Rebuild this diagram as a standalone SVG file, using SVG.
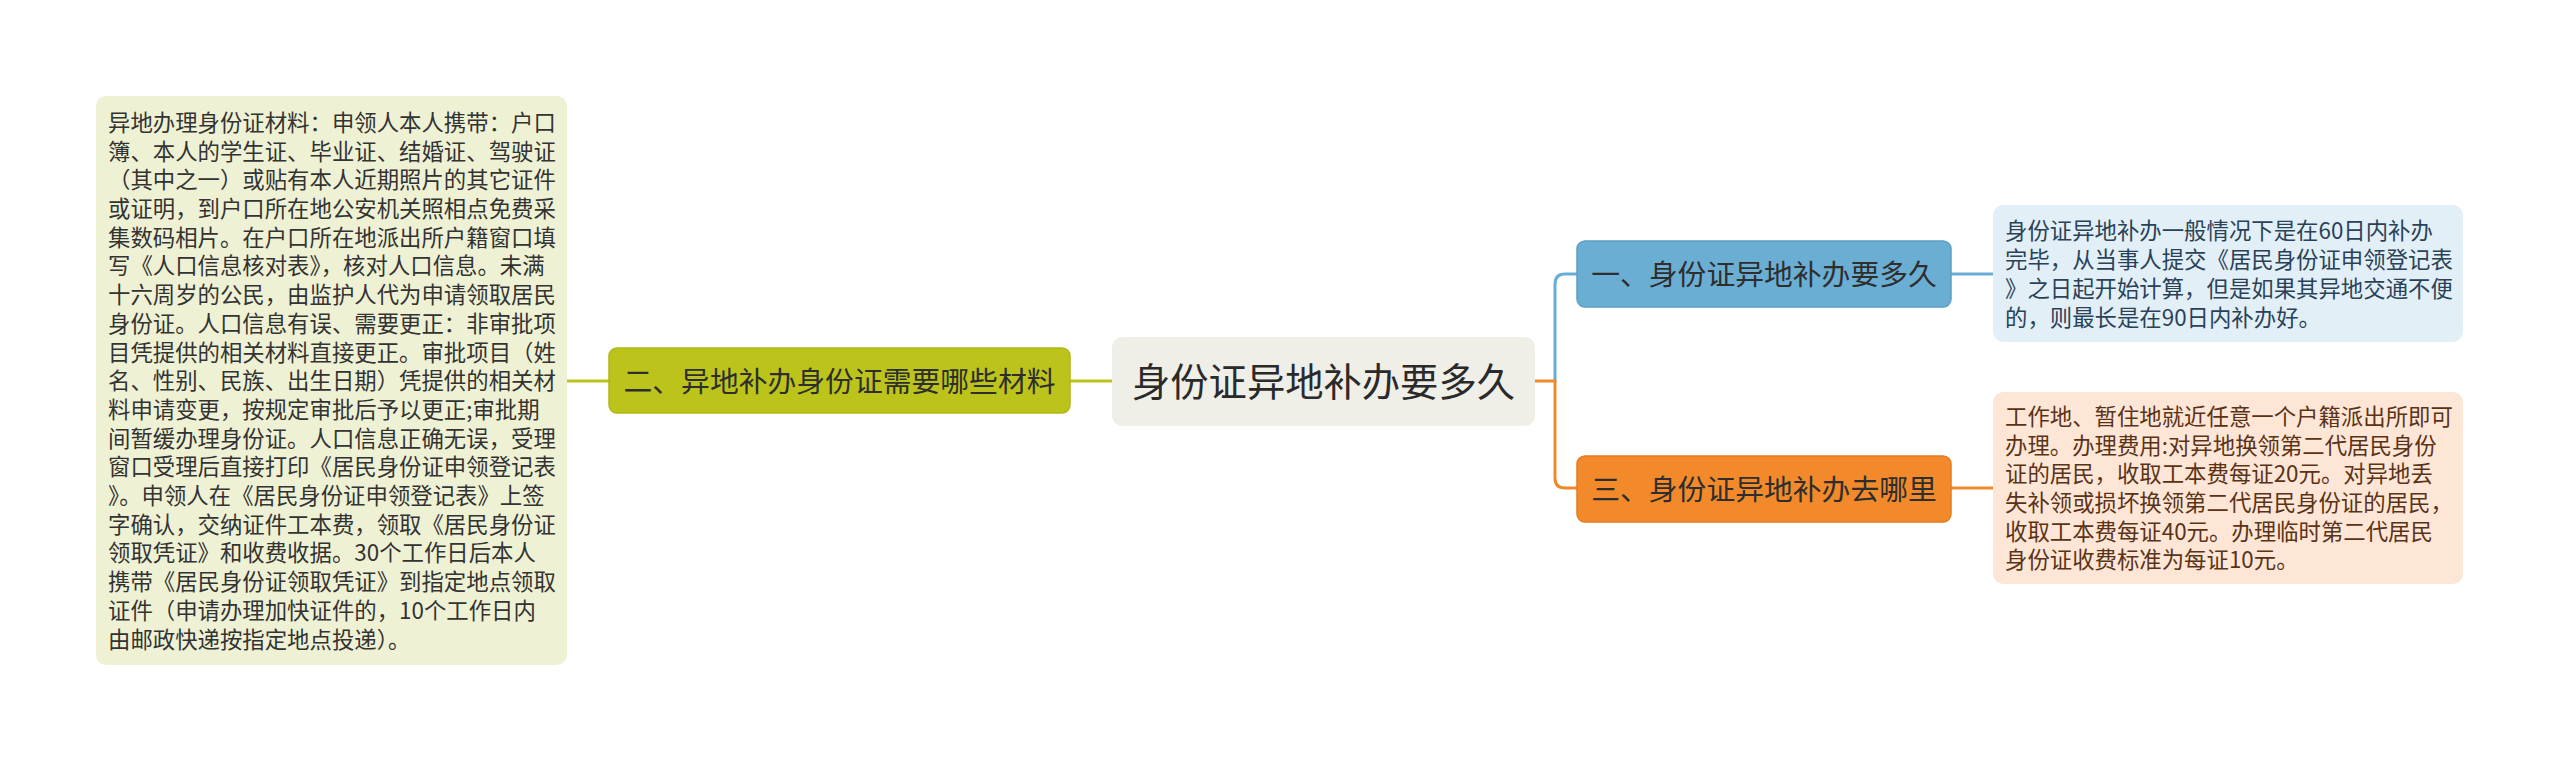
<svg xmlns="http://www.w3.org/2000/svg" width="2560" height="763" viewBox="0 0 2560 763">
<style>
text{font-family:"Noto Sans CJK SC","Noto Sans",sans-serif;}
.note{font-size:22.4px;}
.title{font-size:28.8px;fill:#2e2e2e;text-anchor:middle;}
.conn{fill:none;stroke-width:3;stroke-linecap:round;stroke-linejoin:round;}
</style>
<rect width="2560" height="763" fill="#ffffff"/>
<g id="connectors">
<path class="conn" stroke="#BCC41C" d="M567,381 H609"/>
<path class="conn" stroke="#BCC41C" d="M1070,381 H1112"/>
<path class="conn" stroke="#6AAED3" d="M1555,381 V284 Q1555,274 1565,274 H1577"/>
<path class="conn" stroke="#EE8A2C" d="M1535,381 H1555 V478 Q1555,488 1565,488 H1577"/>
<path class="conn" stroke="#6AAED3" d="M1951,274 H1993"/>
<path class="conn" stroke="#EE8A2C" d="M1951,488 H1993"/>
</g>
<g id="center">
<rect x="1112" y="337" width="423" height="89" rx="10" fill="#EFEEE7"/>
<text x="1323.5" y="395.5" font-size="38.3" fill="#2a2a2a" text-anchor="middle">身份证异地补办要多久</text>
</g>
<g id="node2">
<rect x="609" y="348" width="461" height="65" rx="8" fill="#BCC41C" stroke="#B0B816" stroke-width="1.5"/>
<text class="title" x="839.5" y="392">二、异地补办身份证需要哪些材料</text>
</g>
<g id="node1">
<rect x="1577" y="241" width="374" height="66" rx="8" fill="#6AAED3" stroke="#5C9FC4" stroke-width="1.5"/>
<text class="title" x="1764" y="285">一、身份证异地补办要多久</text>
</g>
<g id="node3">
<rect x="1577" y="456" width="374" height="66" rx="8" fill="#F28A2B" stroke="#E47C20" stroke-width="1.5"/>
<text class="title" x="1764" y="500">三、身份证异地补办去哪里</text>
</g>
<g id="note2">
<rect x="96" y="96" width="471" height="569" rx="10" fill="#EFF1D4"/>
<text class="note" fill="#333333" x="108" y="130.9">
<tspan x="108">异地办理身份证材料：申领人本人携带：户口</tspan>
<tspan x="108" dy="28.7">簿、本人的学生证、毕业证、结婚证、驾驶证</tspan>
<tspan x="108" dy="28.7">（其中之一）或贴有本人近期照片的其它证件</tspan>
<tspan x="108" dy="28.7">或证明，到户口所在地公安机关照相点免费采</tspan>
<tspan x="108" dy="28.7">集数码相片。在户口所在地派出所户籍窗口填</tspan>
<tspan x="108" dy="28.7">写《人口信息核对表》，核对人口信息。未满</tspan>
<tspan x="108" dy="28.7">十六周岁的公民，由监护人代为申请领取居民</tspan>
<tspan x="108" dy="28.7">身份证。人口信息有误、需要更正：非审批项</tspan>
<tspan x="108" dy="28.7">目凭提供的相关材料直接更正。审批项目（姓</tspan>
<tspan x="108" dy="28.7">名、性别、民族、出生日期）凭提供的相关材</tspan>
<tspan x="108" dy="28.7">料申请变更，按规定审批后予以更正;审批期</tspan>
<tspan x="108" dy="28.7">间暂缓办理身份证。人口信息正确无误，受理</tspan>
<tspan x="108" dy="28.7">窗口受理后直接打印《居民身份证申领登记表</tspan>
<tspan x="108" dy="28.7">》。申领人在《居民身份证申领登记表》上签</tspan>
<tspan x="108" dy="28.7">字确认，交纳证件工本费，领取《居民身份证</tspan>
<tspan x="108" dy="28.7">领取凭证》和收费收据。30个工作日后本人</tspan>
<tspan x="108" dy="28.7">携带《居民身份证领取凭证》到指定地点领取</tspan>
<tspan x="108" dy="28.7">证件（申请办理加快证件的，10个工作日内</tspan>
<tspan x="108" dy="28.7">由邮政快递按指定地点投递）。</tspan>
</text>
</g>
<g id="note1">
<rect x="1993" y="205" width="470" height="137" rx="10" fill="#E2EFF7"/>
<text class="note" fill="#2A4257" x="2005" y="239.4">
<tspan x="2005">身份证异地补办一般情况下是在60日内补办</tspan>
<tspan x="2005" dy="28.7">完毕，从当事人提交《居民身份证申领登记表</tspan>
<tspan x="2005" dy="28.7">》之日起开始计算，但是如果其异地交通不便</tspan>
<tspan x="2005" dy="28.7">的，则最长是在90日内补办好。</tspan>
</text>
</g>
<g id="note3">
<rect x="1993" y="392" width="470" height="192" rx="10" fill="#FDE6D6"/>
<text class="note" fill="#5A3316" x="2005" y="424.8">
<tspan x="2005">工作地、暂住地就近任意一个户籍派出所即可</tspan>
<tspan x="2005" dy="28.7">办理。办理费用:对异地换领第二代居民身份</tspan>
<tspan x="2005" dy="28.7">证的居民，收取工本费每证20元。对异地丢</tspan>
<tspan x="2005" dy="28.7">失补领或损坏换领第二代居民身份证的居民，</tspan>
<tspan x="2005" dy="28.7">收取工本费每证40元。办理临时第二代居民</tspan>
<tspan x="2005" dy="28.7">身份证收费标准为每证10元。</tspan>
</text>
</g>
</svg>
